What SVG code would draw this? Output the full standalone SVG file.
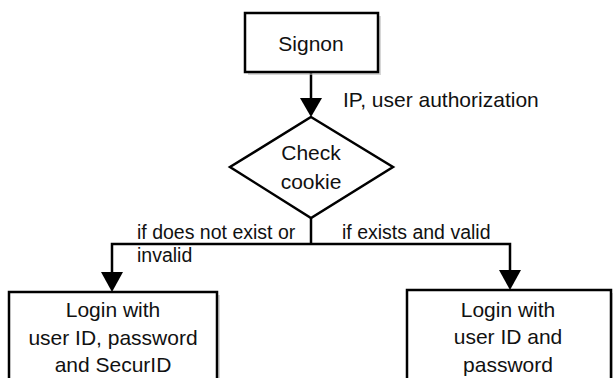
<svg xmlns="http://www.w3.org/2000/svg" width="613" height="378" viewBox="0 0 613 378">
<style>
.shape{fill:#fff;stroke:#000;stroke-width:2.5}
.shadow{fill:#bbb;stroke:none;opacity:0.6}
.line{fill:none;stroke:#000;stroke-width:2.5}
text{font-family:"Liberation Sans",Arial,sans-serif;fill:#111}
.node{font-size:21px;text-anchor:middle}
.lbl{font-size:19.5px}
</style>
<defs>
<marker id="arr" viewBox="0 0 10 10" refX="10" refY="5" markerWidth="8" markerHeight="8" markerUnits="userSpaceOnUse" orient="auto">
<path d="M0,0 L10,5 L0,10 z" fill="#000"/>
</marker>
</defs>
<rect width="613" height="378" fill="#fff"/>
<g id="connectors">
<line class="line" x1="311" y1="72" x2="311" y2="100"/>
<path d="M300,98 L322,98 L311,117 z" fill="#000"/>
<polyline class="line" points="311,218 311,244"/>
<polyline class="line" points="112,272 112,244 510,244 510,272"/>
<path d="M101,272 L123,272 L112,292 z" fill="#000"/>
<path d="M499,270 L521,270 L510,290 z" fill="#000"/>
<text class="lbl" x="343" y="107" style="font-size:21px">IP, user authorization</text>
<text class="lbl" x="137" y="239">if does not exist or</text>
<text class="lbl" x="137" y="262">invalid</text>
<text class="lbl" x="342" y="239">if exists and valid</text>
</g>
<g id="signon">
<rect class="shadow" x="248" y="16" width="133" height="59"/>
<rect class="shape" x="245" y="13" width="133" height="59"/>
<text class="node" x="311" y="51">Signon</text>
</g>
<g id="check-cookie">
<polygon class="shape" points="311,117 393,167 311,218 230,167"/>
<text class="node" x="311" y="160">Check</text>
<text class="node" x="311" y="189">cookie</text>
</g>
<g id="login-securid">
<rect class="shadow" x="12" y="295" width="208" height="100"/>
<rect class="shape" x="9" y="292" width="208" height="100"/>
<text class="node" x="113" y="317">Login with</text>
<text class="node" x="113" y="345">user ID, password</text>
<text class="node" x="113" y="372">and SecurID</text>
</g>
<g id="login-password">
<rect class="shadow" x="410" y="293" width="205" height="100"/>
<rect class="shape" x="407" y="290" width="204" height="100"/>
<text class="node" x="508" y="317">Login with</text>
<text class="node" x="508" y="344">user ID and</text>
<text class="node" x="508" y="372">password</text>
</g>
</svg>
